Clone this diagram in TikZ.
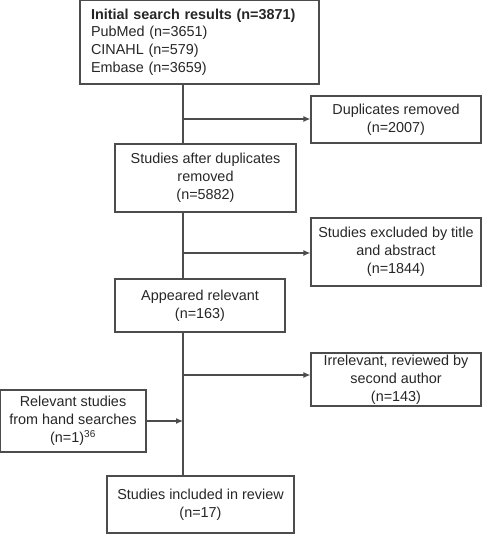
\documentclass[tikz,border=0pt]{standalone}
\usepackage{fontspec}
\setmainfont{Liberation Sans}
\usetikzlibrary{arrows, arrows.meta, positioning, calc}

\begin{document}
\begin{tikzpicture}[x=1pt, y=1pt, font=\fontsize{14.4}{17.8}\selectfont]
% styles
\tikzstyle{block} = [rectangle, draw=black!70, line width=1.2pt, text=black!85, align=center, inner sep=0pt]
\tikzstyle{trunk} = [draw=black!70, line width=1.2pt]
\tikzstyle{line} = [trunk, -{Latex[length=7pt, width=6pt]}]

\useasboundingbox (0,0) rectangle (482,534);

% boxes
\node [block, minimum width=239pt, minimum height=84pt, text width=217pt, align=left] (search) at (199.5,492) {\textbf{Initial search results (n=3871)}\\PubMed (n=3651)\\CINAHL (n=579)\\Embase (n=3659)};
\node [block, minimum width=170pt, minimum height=47pt] (dup) at (396,414.5) {Duplicates removed\\(n=2007)};
\node [block, minimum width=181pt, minimum height=68pt] (after) at (205.5,356) {Studies after duplicates\\removed\\(n=5882)};
\node [block, minimum width=170pt, minimum height=68pt] (excl) at (396,282) {Studies excluded by title\\and abstract\\(n=1844)};
\node [block, minimum width=170pt, minimum height=53pt] (appear) at (200,228.5) {Appeared relevant\\(n=163)};
\node [block, minimum width=170pt, minimum height=53pt] (irrel) at (396,154.5) {Irrelevant, reviewed by\\second author\\(n=143)};
\node [block, minimum width=146pt, minimum height=62pt] (hand) at (73,113) {Relevant studies\\from hand searches\\(n=1)\textsuperscript{36}};
\node [block, minimum width=187pt, minimum height=57pt] (incl) at (200.5,29.5) {Studies included in review\\(n=17)};

% main line
\coordinate (axis) at (183,0);
\coordinate (b1) at (183,415);
\coordinate (b2) at (183,281);
\coordinate (b3) at (183,159);
\path [trunk] (search.south -| axis) -- (after.north -| axis);
\path [trunk] (after.south -| axis) -- (appear.north -| axis);
\path [trunk] (appear.south -| axis) -- (incl.north -| axis);

% side arrows
\path [line] (b1) -- (b1 -| dup.west);
\path [line] (b2) -- (b2 -| excl.west);
\path [line] (b3) -- (b3 -| irrel.west);
\path [line] (hand.east) -- (hand.east -| axis);
\end{tikzpicture}
\end{document}
